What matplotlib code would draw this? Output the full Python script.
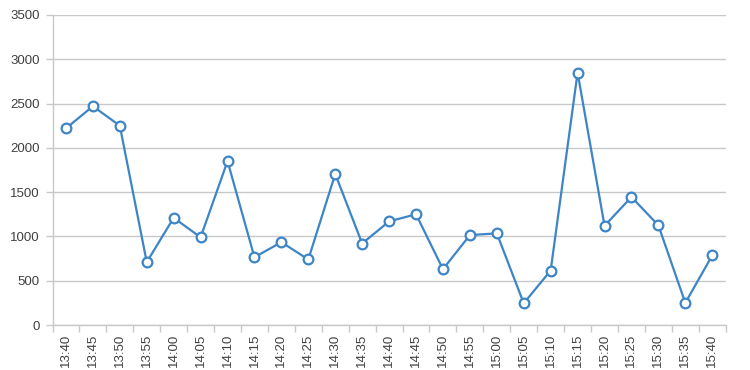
import matplotlib
matplotlib.use("Agg")
import matplotlib.pyplot as plt
import numpy as np

plt.rcParams['font.family'] = ['Liberation Sans', 'DejaVu Sans']

categories = ["13:40", "13:45", "13:50", "13:55", "14:00", "14:05", "14:10", "14:15",
              "14:20", "14:25", "14:30", "14:35", "14:40", "14:45", "14:50", "14:55",
              "15:00", "15:05", "15:10", "15:15", "15:20", "15:25", "15:30", "15:35", "15:40"]
values = [2220, 2470, 2250, 710, 1210, 990, 1850, 765, 935, 740, 1705, 920, 1170, 1250,
          630, 1015, 1035, 245, 615, 2850, 1120, 1445, 1125, 250, 785]
y_ticks = [0, 500, 1000, 1500, 2000, 2500, 3000, 3500]

line_color = "#3d85c6"
grid_color = "#c8c8c8"
text_color = "#404040"

fig = plt.figure(figsize=(7.5, 3.7), dpi=100)
ax = fig.add_axes([0.07, 0.1216, 0.8976, 0.8379])

x = np.arange(len(categories))
ax.plot(x, values, color=line_color, lw=1.6, marker="o", markersize=7,
        markerfacecolor="white", markeredgecolor=line_color, markeredgewidth=1.6,
        zorder=3, clip_on=False)

ax.set_xlim(-0.5, len(categories) - 0.5)
ax.set_ylim(0, 3500)
ax.set_yticks(y_ticks)
ax.set_yticklabels([str(v) for v in y_ticks])
ax.yaxis.grid(True, color=grid_color, lw=1)
ax.set_axisbelow(True)

ax.set_xticks(x)
ax.set_xticklabels(categories, rotation=90)
ax.set_xticks(np.arange(len(categories) + 1) - 0.5, minor=True)
ax.tick_params(axis="x", which="major", length=0, pad=6, labelsize=9.5, labelcolor=text_color)
ax.tick_params(axis="x", which="minor", length=5, color=grid_color, width=1)
ax.tick_params(axis="y", which="major", length=5, color=grid_color, width=1, pad=4,
               labelsize=9.5, labelcolor=text_color)

for s in ["top", "right"]:
    ax.spines[s].set_visible(False)
for s in ["left", "bottom"]:
    ax.spines[s].set_color(grid_color)
    ax.spines[s].set_linewidth(1)

fig.savefig("out.png", dpi=100)
